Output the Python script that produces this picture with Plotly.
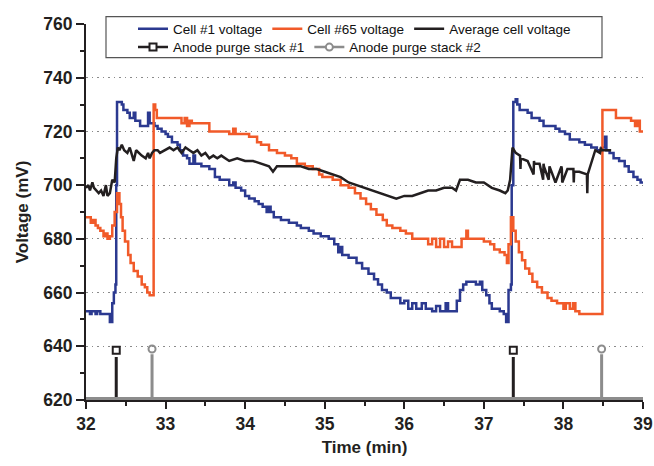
import plotly.graph_objects as go

# ---------------- data ----------------
cell1_t = [32.00, 32.05, 32.07, 32.12, 32.14, 32.18, 32.30, 32.33, 32.35, 32.37, 32.38, 32.39, 32.45, 32.47,
           32.52, 32.55, 32.60, 32.62, 32.68, 32.78, 32.80, 32.86, 32.90, 32.95, 33.00, 33.03, 33.08, 33.15,
           33.18, 33.22, 33.27, 33.30, 33.35, 33.37, 33.45, 33.55, 33.62, 33.68, 33.80, 33.85, 33.88, 33.95,
           34.00, 34.05, 34.12, 34.17, 34.22, 34.27, 34.30, 34.32, 34.36, 34.45, 34.55, 34.65, 34.70, 34.80,
           34.86, 34.95, 35.05, 35.12, 35.17, 35.20, 35.22, 35.30, 35.40, 35.47, 35.55, 35.62, 35.67, 35.72,
           35.78, 35.83, 35.95, 36.00, 36.05, 36.10, 36.15, 36.22, 36.27, 36.35, 36.40, 36.45, 36.52, 36.55,
           36.66, 36.70, 36.74, 36.78, 36.90, 36.95, 36.98, 37.03, 37.07, 37.10, 37.20, 37.25, 37.28, 37.31,
           37.34, 37.35, 37.37, 37.40, 37.42, 37.45, 37.55, 37.60, 37.70, 37.75, 37.90, 37.95, 38.02, 38.08,
           38.20, 38.27, 38.35, 38.42, 38.48, 38.52, 38.54, 38.58, 38.63, 38.70, 38.77, 38.82, 38.88, 38.93,
           38.97, 39.00]
cell1_v = [653, 652, 653, 652, 653, 652, 649, 656, 660, 663, 700, 731, 730, 728,
           727, 725, 727, 724, 722, 727, 723, 722, 721, 720, 719, 718, 716, 715,
           713, 711, 710, 708, 711, 708, 707, 706, 703, 702, 700, 701, 699, 698,
           696, 695, 694, 693, 692, 690, 692, 690, 688, 687, 686, 685, 684, 683,
           682, 681, 680, 678, 675, 677, 674, 673, 671, 669, 667, 665, 663, 661,
           660, 658, 656, 657, 654, 656, 654, 656, 654, 653, 655, 653, 656, 653,
           657, 661, 663, 664, 663, 664, 661, 659, 656, 654, 653, 652, 649, 661,
           663, 700, 731, 732, 730, 728, 727, 725, 724, 722, 721, 720, 719, 717,
           716, 715, 714, 713, 714, 718, 713, 712, 710, 709, 707, 705, 703, 702,
           701, 701]

cell65_t = [32.00, 32.06, 32.09, 32.12, 32.15, 32.18, 32.22, 32.25, 32.27, 32.30, 32.33, 32.36, 32.39, 32.42,
            32.44, 32.46, 32.49, 32.53, 32.56, 32.60, 32.65, 32.70, 32.74, 32.77, 32.80, 32.85, 32.87, 32.89,
            33.20, 33.24, 33.27, 33.30, 33.33, 33.55, 33.80, 33.85, 33.88, 34.05, 34.15, 34.20, 34.30, 34.40,
            34.50, 34.58, 34.65, 34.75, 34.85, 34.93, 34.97, 35.10, 35.20, 35.30, 35.38, 35.45, 35.52, 35.58,
            35.65, 35.73, 35.78, 35.85, 35.95, 36.02, 36.10, 36.25, 36.30, 36.35, 36.40, 36.45, 36.50, 36.55,
            36.60, 36.72, 36.78, 36.80, 36.92, 37.00, 37.08, 37.13, 37.20, 37.26, 37.29, 37.31, 37.34, 37.37,
            37.40, 37.44, 37.48, 37.52, 37.57, 37.61, 37.67, 37.73, 37.80, 37.85, 37.92, 38.00, 38.03, 38.08,
            38.12, 38.15, 38.20, 38.49, 38.63, 38.66, 38.85, 38.90, 38.93, 38.96, 39.00]
cell65_v = [688, 686, 687, 685, 684, 683, 681, 682, 680, 681, 685, 690, 697, 693,
            688, 683, 679, 674, 671, 668, 666, 663, 662, 660, 659, 730, 728, 725,
            723, 725, 722, 724, 723, 720, 719, 721, 719, 718, 716, 715, 713, 712,
            711, 710, 708, 707, 706, 704, 703, 702, 700, 699, 697, 695, 693, 691,
            689, 687, 685, 684, 683, 682, 680, 680, 678, 680, 677, 680, 677, 679,
            677, 680, 683, 680, 680, 679, 678, 676, 675, 674, 671, 678, 688, 683,
            679, 675, 672, 669, 667, 664, 662, 660, 658, 657, 656, 654, 656, 654,
            656, 653, 652, 728, 728, 725, 724, 722, 724, 720, 720]

avg_t = [32.00, 32.03, 32.05, 32.08, 32.10, 32.13, 32.16, 32.19, 32.22, 32.25, 32.27, 32.30, 32.33, 32.36,
         32.38, 32.40, 32.42, 32.45, 32.48, 32.52, 32.55, 32.58, 32.60, 32.63, 32.66, 32.70, 32.75, 32.78,
         32.80, 32.83, 32.86, 32.90, 32.93, 33.00, 33.05, 33.10, 33.15, 33.20, 33.25, 33.30, 33.35, 33.40,
         33.45, 33.50, 33.55, 33.60, 33.65, 33.70, 33.75, 33.80, 33.90, 34.00, 34.10, 34.20, 34.30, 34.35,
         34.40, 34.50, 34.60, 34.70, 34.80, 34.90, 35.00, 35.10, 35.20, 35.30, 35.40, 35.50, 35.60, 35.70,
         35.80, 35.90, 36.00, 36.10, 36.20, 36.30, 36.40, 36.50, 36.60, 36.65, 36.70, 36.80, 36.90, 37.00,
         37.10, 37.20, 37.27, 37.30, 37.33, 37.36, 37.40, 37.455, 37.46, 37.465, 37.55, 37.625, 37.63, 37.635,
         37.70, 37.745, 37.75, 37.755, 37.815, 37.82, 37.825, 37.90, 37.975, 37.98, 37.985, 38.05, 38.125, 38.13,
         38.135, 38.20, 38.295, 38.30, 38.305, 38.40, 38.46, 38.47, 38.48, 38.50, 38.55, 38.60, 38.70, 38.80,
         38.90, 39.00]
avg_v = [699, 700, 698, 701, 699, 698, 697, 698, 696, 700, 696, 697, 702, 701,
         710, 714, 713, 715, 713, 712, 714, 711, 709, 713, 712, 711, 710, 712,
         710, 712, 713, 713, 712, 713, 714, 713, 714, 712, 714, 713, 712, 713,
         711, 712, 710, 711, 710, 711, 710, 709, 710, 709, 709, 708, 707, 705,
         707, 707, 707, 707, 706, 706, 705, 704, 703, 701, 700, 699, 698, 697,
         696, 695, 696, 696, 697, 698, 698, 699, 699, 698, 702, 702, 701, 701,
         699, 698, 697, 698, 702, 714, 712, 711, 706, 710, 709, 704, 709,
         708, 708, 702, 708, 707, 702, 707, 707, 701, 707, 706, 701,
         706, 706, 701, 705, 705, 704, 697, 704, 713, 712, 714, 713, 713,
         713, 713]

purge1_t = [32.00, 32.38, 32.38, 32.38, 37.37, 37.37, 37.37, 39.00]
purge1_v = [620, 620, 636, 620, 620, 636, 620, 620]
purge1_mark_t = [32.38, 37.37]
purge1_mark_v = [638.5, 638.5]

purge2_t = [32.00, 32.83, 32.83, 32.83, 38.48, 38.48, 38.48, 39.00]
purge2_v = [620, 620, 637, 620, 620, 637, 620, 620]
purge2_mark_t = [32.83, 38.48]
purge2_mark_v = [639, 639]
purge2_base_t = [32.00, 39.00]
purge2_base_v = [620, 620]

x_ticks = [32, 33, 34, 35, 36, 37, 38, 39]
y_ticks = [620, 640, 660, 680, 700, 720, 740, 760]

# ---------------- style ----------------
BLUE = "#2B3990"
ORANGE = "#F15A29"
BLACK = "#231F20"
GRAY = "#8C8C8C"
FONT = "Liberation Sans, Arial, sans-serif"

W, H = 654, 466

fig = go.Figure()

fig.add_trace(go.Scatter(x=cell1_t, y=cell1_v, mode="lines", line=dict(color=BLUE, width=2.5, shape="hv"),
                         name="Cell #1 voltage", legend="legend"))
fig.add_trace(go.Scatter(x=cell65_t, y=cell65_v, mode="lines", line=dict(color=ORANGE, width=2.5, shape="hv"),
                         name="Cell #65 voltage", legend="legend"))
fig.add_trace(go.Scatter(x=avg_t, y=avg_v, mode="lines", line=dict(color=BLACK, width=2.5),
                         name="Average cell voltage", legend="legend"))

# purge stack #1
fig.add_trace(go.Scatter(x=purge1_t, y=purge1_v, mode="lines", line=dict(color=BLACK, width=3),
                         showlegend=False, hoverinfo="skip"))
fig.add_trace(go.Scatter(x=purge1_mark_t, y=purge1_mark_v, mode="markers",
                         marker=dict(symbol="square-open", size=7, color=BLACK, line=dict(width=2)),
                         showlegend=False, hoverinfo="skip"))
fig.add_trace(go.Scatter(x=[None], y=[None], mode="lines+markers",
                         line=dict(color=BLACK, width=2.5),
                         marker=dict(symbol="square", size=7, color="white", line=dict(color=BLACK, width=2)),
                         name="Anode purge stack #1", legend="legend2"))
# purge stack #2
fig.add_trace(go.Scatter(x=purge2_base_t, y=purge2_base_v, mode="lines", line=dict(color=GRAY, width=6),
                         showlegend=False, hoverinfo="skip"))
fig.add_trace(go.Scatter(x=purge2_t, y=purge2_v, mode="lines", line=dict(color=GRAY, width=3),
                         showlegend=False, hoverinfo="skip"))
fig.add_trace(go.Scatter(x=purge2_mark_t, y=purge2_mark_v, mode="markers",
                         marker=dict(symbol="circle-open", size=7, color=GRAY, line=dict(width=2)),
                         showlegend=False, hoverinfo="skip"))
fig.add_trace(go.Scatter(x=[None], y=[None], mode="lines+markers",
                         line=dict(color=GRAY, width=2.5),
                         marker=dict(symbol="circle", size=7, color="white", line=dict(color=GRAY, width=2)),
                         name="Anode purge stack #2", legend="legend2"))

legend_common = dict(orientation="h", xref="container", yref="container", xanchor="left", yanchor="middle",
                     bgcolor="rgba(0,0,0,0)", borderwidth=0, font=dict(family=FONT, size=13.5, color="#111"),
                     itemwidth=30, tracegroupgap=0)

fig.update_layout(
    width=W, height=H,
    margin=dict(l=86, r=11, t=24, b=66, autoexpand=False),
    paper_bgcolor="white", plot_bgcolor="white",
    font=dict(family=FONT, color="#111"),
    legend=dict(legend_common, x=133 / W, y=1 - 29 / H),
    legend2=dict(legend_common, x=133 / W, y=1 - 47.3 / H),
    xaxis=dict(range=[32, 39], tickvals=x_ticks, ticks="outside", ticklen=7, tickwidth=2, tickcolor=BLACK,
               showline=True, linewidth=2, linecolor=BLACK, showgrid=False, zeroline=False,
               tickfont=dict(family=FONT, size=17.5, weight="bold", color=BLACK),
               minor=dict(dtick=0.5, ticks="outside", ticklen=4, tickwidth=2, tickcolor=BLACK, showgrid=False),
               title=dict(text="Time (min)", font=dict(family=FONT, size=17, weight="bold", color=BLACK), standoff=8)),
    yaxis=dict(range=[620, 760], tickvals=y_ticks, ticks="outside", ticklen=8, tickwidth=2, tickcolor=BLACK,
               showline=True, linewidth=2, linecolor=BLACK, zeroline=False,
               showgrid=True, gridcolor="#8a8a8a", gridwidth=1.3, griddash="1.5px,4px",
               tickfont=dict(family=FONT, size=17.5, weight="bold", color=BLACK),
               minor=dict(dtick=10, ticks="outside", ticklen=4, tickwidth=2, tickcolor=BLACK, showgrid=False),
               title=dict(text="Voltage (mV)", font=dict(family=FONT, size=17, weight="bold", color=BLACK), standoff=10)),
    shapes=[dict(type="rect", xref="paper", yref="paper",
                 x0=(106 - 86) / 557, x1=(602 - 86) / 557, y0=(400 - 57.7) / 376, y1=(400 - 16.7) / 376,
                 line=dict(color="#555555", width=1.2), fillcolor="rgba(0,0,0,0)", layer="above")],
)

fig.write_html("out.html", config={"displayModeBar": False},
               post_script="document.body.style.margin='0';document.body.style.overflow='hidden';")
